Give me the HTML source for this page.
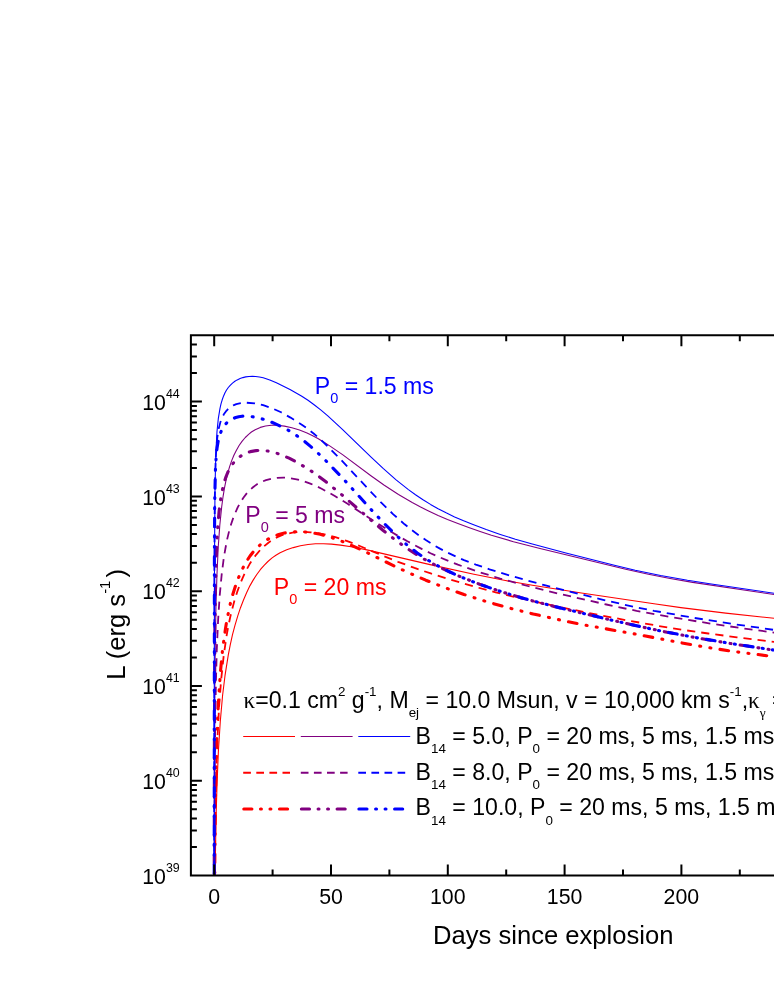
<!DOCTYPE html>
<html><head><meta charset="utf-8"><title>Magnetar light curves</title>
<style>html,body{margin:0;padding:0;background:#fff}svg{display:block;will-change:transform}text{font-family:"Liberation Sans",sans-serif;fill:#000}.sy{font-family:"Liberation Serif",serif}</style></head>
<body>
<svg width="774" height="1001" viewBox="0 0 774 1001">
<rect width="774" height="1001" fill="#fff"/>
<defs><clipPath id="c"><rect x="190.9" y="335.2" width="588.1" height="540.4"/></clipPath></defs>
<g clip-path="url(#c)" fill="none" stroke-linejoin="round">
<path d="M214.8 914.6 L215.3 862.4 L216.0 819.1 L217.1 782.6 L218.4 750.9 L220.3 721.3 L222.6 695.2 L225.0 675.7 L228.3 654.9 L230.2 645.2 L232.5 634.7 L234.9 625.7 L237.7 616.1 L240.5 607.7 L243.4 600.2 L246.7 592.5 L250.0 585.6 L253.3 579.9 L256.6 574.8 L260.3 569.7 L264.1 565.3 L267.9 561.5 L272.1 557.9 L275.9 555.3 L280.1 552.8 L286.7 549.8 L293.3 547.6 L300.4 545.8 L308.0 544.5 L315.5 543.8 L323.5 543.7 L331.5 544.1 L340.5 545.1 L352.8 547.0 L366.9 549.9 L430.1 564.6 L473.9 574.3 L504.1 580.3 L532.4 585.3 L581.4 593.0 L654.0 603.8 L680.9 607.6 L725.7 613.1 L786.5 619.6" stroke="#ff0000" stroke-width="1.1"/>
<path d="M214.6 914.6 L215.0 855.3 L215.6 809.2 L216.4 769.9 L217.6 736.0 L219.1 706.3 L221.1 680.2 L223.6 656.6 L226.4 636.9 L228.3 626.3 L230.2 617.3 L232.1 609.4 L234.4 600.8 L237.2 591.9 L240.1 584.1 L242.9 577.3 L246.2 570.3 L250.0 563.4 L252.3 559.8 L256.1 554.8 L260.3 549.9 L264.1 546.2 L268.4 542.7 L272.6 539.8 L277.3 537.2 L282.0 535.2 L287.2 533.7 L292.4 532.7 L298.1 532.1 L304.2 531.9 L310.8 532.3 L317.4 533.1 L324.5 534.3 L335.3 537.1 L346.6 540.9 L359.8 546.0 L384.3 556.3 L398.0 561.8 L414.5 567.9 L431.5 573.7 L452.2 580.2 L473.9 586.5 L495.6 592.3 L518.2 597.8 L548.9 604.7 L583.3 611.9 L622.9 619.6 L657.8 625.8 L682.3 629.8 L708.3 633.5 L737.0 637.3 L786.5 643.4" stroke="#ff0000" stroke-width="1.8" stroke-dasharray="8.2 6" stroke-dashoffset="5.1"/>
<path d="M214.5 912.9 L214.9 851.0 L215.4 802.1 L216.2 761.5 L217.2 727.3 L218.7 697.5 L220.5 671.4 L222.6 649.4 L225.5 628.5 L226.9 620.2 L228.8 610.6 L230.6 602.4 L233.0 593.7 L235.4 586.2 L237.7 579.7 L240.5 572.9 L243.4 567.0 L246.7 561.1 L250.0 556.0 L253.3 551.8 L256.6 548.2 L260.3 544.7 L264.6 541.4 L268.8 538.7 L273.1 536.6 L278.7 534.4 L284.4 533.0 L291.0 532.0 L297.6 531.7 L305.1 532.0 L312.7 532.9 L320.2 534.3 L327.8 536.3 L338.1 539.8 L349.5 544.4 L362.7 550.5 L392.4 565.1 L407.9 572.4 L425.8 580.2 L443.3 587.1 L464.0 594.5 L485.7 601.4 L508.8 607.9 L533.3 614.0 L558.3 619.6 L582.8 624.7 L632.8 633.6 L674.3 641.5 L697.9 645.8 L716.3 648.8 L733.2 651.4 L786.5 658.2" stroke="#ff0000" stroke-width="3.1" stroke-linecap="round" stroke-dasharray="8.7 9.3 1 9.3 1 9.2" stroke-dashoffset="26.9"/>
<path d="M214.2 907.9 L214.5 740.7 L214.8 686.4 L215.3 641.6 L216.0 604.6 L217.0 573.8 L218.2 547.5 L219.8 525.3 L221.7 506.7 L223.1 496.3 L224.5 487.9 L225.9 480.8 L227.8 472.9 L229.7 466.4 L231.6 460.9 L233.9 455.2 L236.3 450.4 L239.1 445.5 L242.0 441.4 L245.3 437.5 L248.6 434.3 L251.4 432.0 L255.2 429.7 L260.3 427.4 L265.5 426.0 L271.2 425.3 L277.3 425.3 L284.4 426.1 L291.9 427.7 L299.5 430.0 L307.0 433.0 L312.2 435.5 L317.9 438.5 L324.0 442.2 L330.1 446.1 L342.9 454.9 L371.6 476.2 L384.3 485.2 L398.5 494.5 L412.2 502.5 L420.6 507.1 L429.1 511.2 L438.1 515.4 L447.5 519.4 L457.9 523.5 L468.7 527.5 L480.1 531.5 L491.4 535.2 L513.5 541.7 L539.0 548.3 L625.7 569.2 L648.4 574.3 L670.1 578.5 L692.7 582.4 L786.5 596.4" stroke="#800080" stroke-width="1.1"/>
<path d="M214.3 913.5 L214.8 770.6 L215.2 722.2 L215.9 683.2 L216.8 649.3 L218.1 620.2 L219.7 595.6 L221.7 574.3 L224.0 556.4 L225.5 548.0 L227.3 538.6 L229.2 530.8 L231.1 524.3 L233.0 518.6 L235.4 512.6 L237.7 507.4 L240.5 502.2 L243.4 497.7 L246.7 493.4 L250.0 489.9 L253.3 487.0 L257.0 484.3 L260.8 482.2 L266.0 480.1 L271.7 478.6 L277.3 477.8 L283.4 477.6 L290.0 478.1 L296.6 479.3 L303.2 481.0 L310.3 483.6 L316.0 486.0 L321.6 488.7 L334.4 495.7 L347.6 503.8 L377.7 523.4 L391.9 532.3 L407.4 541.3 L422.1 549.1 L430.5 553.2 L439.5 557.2 L448.5 561.0 L457.9 564.7 L477.7 571.6 L500.3 578.6 L527.7 586.0 L557.8 593.5 L606.4 604.5 L636.6 610.9 L669.6 616.8 L711.1 623.7 L739.8 627.9 L786.5 634.3" stroke="#800080" stroke-width="1.8" stroke-dasharray="8.2 6" stroke-dashoffset="8.6"/>
<path d="M214.2 909.4 L214.4 730.3 L214.9 633.7 L215.3 597.9 L215.9 569.5 L216.7 546.2 L217.7 527.5 L219.1 511.1 L220.9 497.6 L223.1 486.5 L224.5 481.3 L225.9 477.0 L227.8 472.3 L229.7 468.6 L231.6 465.4 L233.9 462.3 L236.3 459.7 L239.1 457.2 L242.0 455.2 L245.3 453.4 L250.4 451.6 L256.1 450.6 L262.2 450.4 L268.4 451.1 L275.0 452.6 L281.6 454.9 L289.1 458.2 L297.1 462.4 L304.2 466.6 L311.3 471.1 L318.8 476.4 L326.3 482.1 L341.4 494.4 L370.2 519.5 L382.9 530.2 L396.1 540.6 L408.9 549.6 L416.4 554.5 L423.9 559.0 L432.0 563.4 L440.4 567.7 L449.4 571.9 L458.8 576.0 L468.7 580.0 L479.6 584.2 L492.8 588.8 L506.5 593.3 L520.6 597.5 L535.7 601.7 L554.1 606.4 L576.7 611.9 L610.2 619.8 L634.2 625.3 L667.2 632.3 L698.8 638.2 L731.8 643.7 L786.5 652.1" stroke="#800080" stroke-width="3.1" stroke-linecap="round" stroke-dasharray="8.7 9.3 1 9.3 1 9.2" stroke-dashoffset="31.6"/>
<path d="M214.2 914.0 L214.3 669.1 L214.5 559.6 L215.0 489.8 L215.5 466.2 L216.1 447.9 L217.0 431.5 L218.3 418.7 L220.0 408.3 L221.0 403.8 L222.2 399.8 L223.6 395.9 L225.0 392.8 L226.4 390.3 L228.3 387.5 L230.2 385.3 L232.5 383.1 L234.9 381.3 L237.2 379.9 L240.1 378.6 L242.9 377.6 L245.7 376.9 L249.0 376.5 L252.3 376.4 L255.6 376.5 L259.4 377.0 L263.2 377.8 L269.8 379.9 L276.4 382.7 L290.0 389.6 L301.4 396.0 L308.0 400.3 L314.1 404.7 L320.7 409.9 L327.8 415.9 L342.4 429.3 L371.1 457.2 L383.4 468.7 L396.1 479.9 L408.4 489.6 L415.5 494.7 L423.0 499.8 L430.5 504.4 L438.1 508.7 L446.1 512.8 L454.6 516.9 L463.6 520.8 L473.0 524.6 L486.2 529.6 L500.3 534.4 L515.4 539.2 L531.4 543.8 L565.9 553.0 L615.4 565.5 L635.2 570.2 L660.6 575.5 L687.5 580.3 L709.7 583.7 L786.5 595.1" stroke="#0000ff" stroke-width="1.1"/>
<path d="M214.2 912.2 L214.4 560.2 L214.8 497.3 L215.6 461.8 L216.3 448.3 L217.3 437.6 L218.6 429.1 L220.4 422.1 L222.6 416.6 L224.0 414.1 L225.9 411.4 L227.8 409.4 L229.7 407.7 L231.6 406.4 L233.9 405.1 L236.3 404.1 L239.6 403.3 L242.9 402.8 L246.2 402.7 L254.7 403.3 L258.9 404.1 L263.2 405.2 L272.1 408.3 L281.1 412.3 L290.5 417.6 L301.8 424.7 L308.0 429.1 L313.6 433.5 L319.7 438.8 L326.8 445.5 L341.0 459.8 L369.7 490.6 L381.0 502.4 L393.3 514.3 L404.6 524.3 L411.7 530.0 L418.8 535.3 L425.8 540.1 L432.9 544.6 L440.4 548.9 L448.0 552.8 L456.0 556.6 L464.0 560.1 L475.8 564.6 L489.5 569.3 L506.0 574.4 L524.8 579.8 L544.6 585.2 L566.8 590.9 L603.1 599.8 L624.3 604.7 L638.5 607.7 L654.0 610.8 L694.1 617.9 L733.2 624.0 L786.5 631.7" stroke="#0000ff" stroke-width="1.8" stroke-dasharray="8.2 6" stroke-dashoffset="13.5"/>
<path d="M214.2 907.5 L214.4 558.6 L214.7 502.5 L215.4 470.5 L216.1 458.0 L217.0 448.3 L218.3 440.4 L220.0 434.1 L222.2 428.9 L223.6 426.6 L225.0 424.7 L226.9 422.7 L228.8 421.1 L230.6 419.8 L233.0 418.6 L235.8 417.5 L238.7 416.7 L242.0 416.2 L245.3 416.1 L248.6 416.3 L252.8 416.8 L260.8 418.5 L269.8 421.4 L278.7 425.3 L288.2 430.2 L297.1 435.9 L303.7 440.7 L310.8 446.6 L318.3 453.4 L326.3 461.2 L342.4 477.8 L371.1 509.6 L382.0 521.2 L393.3 532.6 L404.1 542.5 L410.7 547.9 L417.3 552.9 L423.9 557.5 L430.5 561.7 L437.6 565.7 L445.2 569.6 L453.2 573.5 L462.1 577.4 L475.3 582.7 L490.0 587.9 L505.0 592.9 L521.1 597.7 L538.0 602.3 L557.8 607.3 L616.3 621.3 L656.4 630.1 L691.8 636.9 L729.5 643.3 L786.5 652.0" stroke="#0000ff" stroke-width="3.1" stroke-linecap="round" stroke-dasharray="8.7 9.3 1 9.3 1 9.2" stroke-dashoffset="4.3"/>
</g>
<path d="M190.9 335.2 H776 M189.9 875.6 H776 M190.9 334.2 V876.6 M214.2 335.2 v11 M214.2 875.6 v-11 M272.6 335.2 v6 M272.6 875.6 v-6 M331.0 335.2 v11 M331.0 875.6 v-11 M389.4 335.2 v6 M389.4 875.6 v-6 M447.8 335.2 v11 M447.8 875.6 v-11 M506.2 335.2 v6 M506.2 875.6 v-6 M564.6 335.2 v11 M564.6 875.6 v-11 M623.0 335.2 v6 M623.0 875.6 v-6 M681.4 335.2 v11 M681.4 875.6 v-11 M739.8 335.2 v6 M739.8 875.6 v-6 M190.9 847.1 h6 M190.9 830.4 h6 M190.9 818.5 h6 M190.9 809.3 h6 M190.9 801.8 h6 M190.9 795.5 h6 M190.9 790.0 h6 M190.9 785.1 h6 M190.9 780.8 h11 M190.9 752.3 h6 M190.9 735.6 h6 M190.9 723.7 h6 M190.9 714.5 h6 M190.9 707.0 h6 M190.9 700.7 h6 M190.9 695.2 h6 M190.9 690.3 h6 M190.9 686.0 h11 M190.9 657.5 h6 M190.9 640.8 h6 M190.9 628.9 h6 M190.9 619.7 h6 M190.9 612.2 h6 M190.9 605.9 h6 M190.9 600.4 h6 M190.9 595.5 h6 M190.9 591.2 h11 M190.9 562.7 h6 M190.9 546.0 h6 M190.9 534.1 h6 M190.9 524.9 h6 M190.9 517.4 h6 M190.9 511.1 h6 M190.9 505.6 h6 M190.9 500.7 h6 M190.9 496.4 h11 M190.9 467.9 h6 M190.9 451.2 h6 M190.9 439.3 h6 M190.9 430.1 h6 M190.9 422.6 h6 M190.9 416.3 h6 M190.9 410.8 h6 M190.9 405.9 h6 M190.9 401.6 h11 M190.9 373.1 h6 M190.9 356.4 h6 M190.9 344.5 h6 M190.9 335.3 h6" stroke="#000" stroke-width="2" fill="none"/>
<text x="214.2" y="903.8" font-size="21.33" text-anchor="middle">0</text>
<text x="331.0" y="903.8" font-size="21.33" text-anchor="middle">50</text>
<text x="447.8" y="903.8" font-size="21.33" text-anchor="middle">100</text>
<text x="564.6" y="903.8" font-size="21.33" text-anchor="middle">150</text>
<text x="681.4" y="903.8" font-size="21.33" text-anchor="middle">200</text>
<text x="179.7" y="883.7" font-size="21.33" text-anchor="end">10<tspan font-size="12.4" dy="-11.9">39</tspan></text>
<text x="179.7" y="788.9" font-size="21.33" text-anchor="end">10<tspan font-size="12.4" dy="-11.9">40</tspan></text>
<text x="179.7" y="694.1" font-size="21.33" text-anchor="end">10<tspan font-size="12.4" dy="-11.9">41</tspan></text>
<text x="179.7" y="599.3" font-size="21.33" text-anchor="end">10<tspan font-size="12.4" dy="-11.9">42</tspan></text>
<text x="179.7" y="504.5" font-size="21.33" text-anchor="end">10<tspan font-size="12.4" dy="-11.9">43</tspan></text>
<text x="179.7" y="409.7" font-size="21.33" text-anchor="end">10<tspan font-size="12.4" dy="-11.9">44</tspan></text>
<text x="433" y="943.6" font-size="25.6">Days since explosion</text>
<text transform="translate(125.1 679.7) rotate(-90)" font-size="25.6">L (erg s<tspan font-size="14.8" dy="-15">-1</tspan><tspan dy="15" dx="3.2">)</tspan></text>
<text x="314.8" y="393.6" font-size="23.1" style="fill:#0000ff">P<tspan font-size="14.5" dy="9">0</tspan><tspan dy="-9"> = 1.5 ms</tspan></text>
<text x="245.3" y="523.1" font-size="23.1" style="fill:#800080">P<tspan font-size="14.5" dy="9">0</tspan><tspan dy="-9"> = 5 ms</tspan></text>
<text x="273.8" y="595.2" font-size="23.1" style="fill:#ff0000">P<tspan font-size="14.5" dy="9">0</tspan><tspan dy="-9"> = 20 ms</tspan></text>
<text x="243.5" y="708.2" font-size="23.1"><tspan class="sy">κ</tspan>=0.1 cm<tspan font-size="13.4" dy="-11.8">2</tspan><tspan dy="11.8"> g</tspan><tspan font-size="13.4" dy="-11.8">-1</tspan><tspan dy="11.8">, M</tspan><tspan font-size="13.4" dy="8.6">ej</tspan><tspan dy="-8.6"> = 10.0 Msun, v = 10,000 km s</tspan><tspan font-size="13.4" dy="-11.8">-1</tspan><tspan dy="11.8">,</tspan><tspan class="sy">κ</tspan><tspan class="sy" font-size="13.4" dy="8.6">γ</tspan><tspan dy="-8.6"> = 0.1</tspan></text>
<text x="415.6" y="743.6" font-size="23.1">B<tspan font-size="13.4" dy="9.5">14</tspan><tspan dy="-9.5"> = 5.0, P</tspan><tspan font-size="13.4" dy="9.5">0</tspan><tspan dy="-9.5"> = 20 ms, 5 ms, 1.5 ms</tspan></text>
<text x="415.6" y="779.5" font-size="23.1">B<tspan font-size="13.4" dy="9.5">14</tspan><tspan dy="-9.5"> = 8.0, P</tspan><tspan font-size="13.4" dy="9.5">0</tspan><tspan dy="-9.5"> = 20 ms, 5 ms, 1.5 ms</tspan></text>
<text x="415.6" y="815.2" font-size="23.1">B<tspan font-size="13.4" dy="9.5">14</tspan><tspan dy="-9.5"> = 10.0, P</tspan><tspan font-size="13.4" dy="9.5">0</tspan><tspan dy="-9.5"> = 20 ms, 5 ms, 1.5 ms</tspan></text>
<g fill="none">
<path d="M243.2 736.5 H295.0" stroke="#ff0000" stroke-width="1.1"/>
<path d="M243.2 772.8 H290.0" stroke="#ff0000" stroke-width="1.9" stroke-dasharray="7.7 5.4"/>
<path d="M243.8 809 H289.0" stroke="#ff0000" stroke-width="3.1" stroke-linecap="round" stroke-dasharray="8.1 8.6 0.9 8.6 0.9 8.6"/>
<path d="M300.8 736.5 H352.6" stroke="#800080" stroke-width="1.1"/>
<path d="M300.8 772.8 H347.6" stroke="#800080" stroke-width="1.9" stroke-dasharray="7.7 5.4"/>
<path d="M301.4 809 H346.6" stroke="#800080" stroke-width="3.1" stroke-linecap="round" stroke-dasharray="8.1 8.6 0.9 8.6 0.9 8.6"/>
<path d="M358.3 736.5 H410.2" stroke="#0000ff" stroke-width="1.1"/>
<path d="M358.3 772.8 H405.2" stroke="#0000ff" stroke-width="1.9" stroke-dasharray="7.7 5.4"/>
<path d="M358.9 809 H404.2" stroke="#0000ff" stroke-width="3.1" stroke-linecap="round" stroke-dasharray="8.1 8.6 0.9 8.6 0.9 8.6"/>
</g>
</svg>
</body></html>
